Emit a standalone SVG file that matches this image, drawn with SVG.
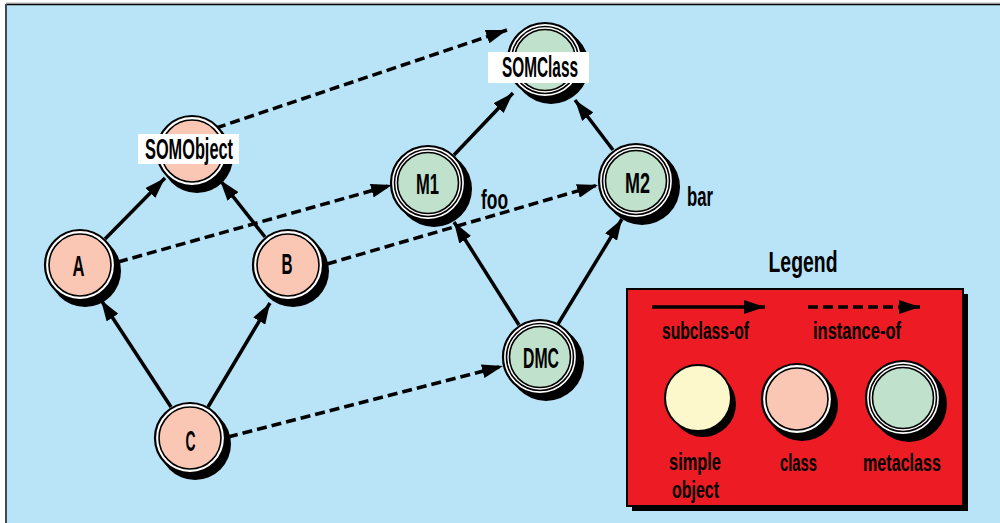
<svg xmlns="http://www.w3.org/2000/svg" width="1000" height="523" viewBox="0 0 1000 523">
  <defs>
    <style>
      .lbl { font-family: "Liberation Sans", "DejaVu Sans", sans-serif; font-weight: bold; fill: #000; text-anchor: middle; }
      .node { font-size: 29px; }
      .side { font-size: 28px; text-anchor: start; }
      .leg { font-size: 24px; }
      .shadow { fill: #000; }
      .ring { fill: #fff; stroke: #000; stroke-width: 2.2; }
      .inner { fill: none; stroke: #000; stroke-width: 1.6; }
      .cls { fill: #f9c7b4; stroke: #000; stroke-width: 1.6; }
      .meta { fill: #c0e1cb; stroke: #000; stroke-width: 1.6; }
      .simple { fill: #fdf8cb; stroke: #000; stroke-width: 2; }
      .tag { fill: #fff; }
      .sub { stroke: #000; stroke-width: 3.5; fill: none; marker-end: url(#head); }
      .inst { stroke: #000; stroke-width: 3.5; fill: none; stroke-dasharray: 10 5; marker-end: url(#head); }
    </style>
    <marker id="head" markerUnits="userSpaceOnUse" markerWidth="22" markerHeight="14" refX="21" refY="7" orient="auto">
      <path d="M0,0 L21,7 L0,14 z" fill="#000"/>
    </marker>
    <!-- class node: shadow, white ring, fill -->
    <g id="classNode">
      <circle class="shadow" cx="5" cy="6" r="36"/>
      <circle class="ring" r="35"/>
      <circle class="cls" r="31"/>
    </g>
    <!-- metaclass node: shadow, double ring, fill -->
    <g id="metaNode">
      <circle class="shadow" cx="6" cy="6" r="38"/>
      <circle class="ring" r="37"/>
      <circle class="inner" r="33.5"/>
      <circle class="meta" r="30.5"/>
    </g>
  </defs>

  <!-- frame -->
  <rect width="1000" height="523" fill="#fff"/>
  <rect x="6" y="4" width="994" height="519" fill="#b9e4f8"/>
  <line x1="6" y1="3" x2="1000" y2="3" stroke="#aaa" stroke-width="1"/>
  <line x1="6" y1="4.5" x2="1000" y2="4.5" stroke="#000" stroke-width="1.5"/>
  <line x1="6" y1="4" x2="6" y2="523" stroke="#3f4a52" stroke-width="2"/>

  <!-- connectors -->
  <g id="connectors">
    <!-- subclass-of -->
    <line class="sub" x1="105" y1="239" x2="165" y2="178"/>
    <line class="sub" x1="265" y1="237" x2="220" y2="180"/>
    <line class="sub" x1="171" y1="407" x2="101" y2="300"/>
    <line class="sub" x1="208" y1="407" x2="270" y2="303"/>
    <line class="sub" x1="454" y1="155" x2="513" y2="93"/>
    <line class="sub" x1="613" y1="150" x2="575" y2="100"/>
    <line class="sub" x1="519" y1="325" x2="454" y2="222"/>
    <line class="sub" x1="558" y1="324" x2="622" y2="219"/>
    <!-- instance-of -->
    <line class="inst" x1="216" y1="128" x2="507" y2="30"/>
    <line class="inst" x1="118" y1="262" x2="392" y2="185"/>
    <line class="inst" x1="327" y1="264" x2="598" y2="185"/>
    <line class="inst" x1="228" y1="437" x2="503" y2="366"/>
  </g>

  <g id="SOMObject">
    <use href="#classNode" x="192" y="151"/>
    <rect class="tag" x="138" y="134" width="101" height="30"/>
    <text class="lbl node" x="189" y="159" font-size="27" textLength="88" lengthAdjust="spacingAndGlyphs">SOMObject</text>
  </g>
  <g id="SOMClass">
    <use href="#metaNode" x="545" y="60"/>
    <rect class="tag" x="488" y="52" width="101" height="31"/>
    <text class="lbl node" x="540" y="77" font-size="27" textLength="76" lengthAdjust="spacingAndGlyphs">SOMClass</text>
  </g>
  <g id="M1">
    <use href="#metaNode" x="428" y="183"/>
    <text class="lbl node" x="427.5" y="194" textLength="23" lengthAdjust="spacingAndGlyphs">M1</text>
    <text class="lbl side" x="481" y="209" textLength="27" lengthAdjust="spacingAndGlyphs">foo</text>
  </g>
  <g id="M2">
    <use href="#metaNode" x="636" y="181"/>
    <text class="lbl node" x="637.5" y="193" textLength="25" lengthAdjust="spacingAndGlyphs">M2</text>
    <text class="lbl side" x="687" y="206" textLength="26" lengthAdjust="spacingAndGlyphs">bar</text>
  </g>
  <g id="A">
    <use href="#classNode" x="80" y="265"/>
    <text class="lbl node" x="78.5" y="276" textLength="12" lengthAdjust="spacingAndGlyphs">A</text>
  </g>
  <g id="B">
    <use href="#classNode" x="288" y="265"/>
    <text class="lbl node" x="287" y="274" textLength="11" lengthAdjust="spacingAndGlyphs">B</text>
  </g>
  <g id="C">
    <use href="#classNode" x="190" y="438"/>
    <text class="lbl node" x="190.5" y="451" textLength="10" lengthAdjust="spacingAndGlyphs">C</text>
  </g>
  <g id="DMC">
    <use href="#metaNode" x="540" y="357"/>
    <text class="lbl node" x="541" y="368" textLength="36" lengthAdjust="spacingAndGlyphs">DMC</text>
  </g>

  <!-- legend -->
  <g id="legend">
    <text class="lbl" x="803" y="272" font-size="29" textLength="69" lengthAdjust="spacingAndGlyphs">Legend</text>
    <rect x="632" y="294" width="336" height="217" fill="#000"/>
    <rect x="627" y="289" width="336" height="217" fill="#ed1c24" stroke="#000" stroke-width="2"/>
    <line class="sub" x1="652" y1="307" x2="765" y2="307"/>
    <line class="inst" x1="808" y1="307" x2="920" y2="307" stroke-dasharray="7 4"/>
    <text class="lbl leg" x="705.5" y="339" textLength="87" lengthAdjust="spacingAndGlyphs">subclass-of</text>
    <text class="lbl leg" x="857" y="339" textLength="88" lengthAdjust="spacingAndGlyphs">instance-of</text>
    <circle class="shadow" cx="703" cy="404" r="33"/>
    <circle class="simple" cx="698" cy="398" r="33"/>
    <use href="#classNode" x="797" y="399"/>
    <use href="#metaNode" x="903" y="398"/>
    <text class="lbl leg" x="695" y="470" textLength="52" lengthAdjust="spacingAndGlyphs">simple</text>
    <text class="lbl leg" x="695.5" y="498" textLength="47" lengthAdjust="spacingAndGlyphs">object</text>
    <text class="lbl leg" x="798.5" y="471" textLength="37" lengthAdjust="spacingAndGlyphs">class</text>
    <text class="lbl leg" x="902" y="471" textLength="78" lengthAdjust="spacingAndGlyphs">metaclass</text>
  </g>
</svg>
